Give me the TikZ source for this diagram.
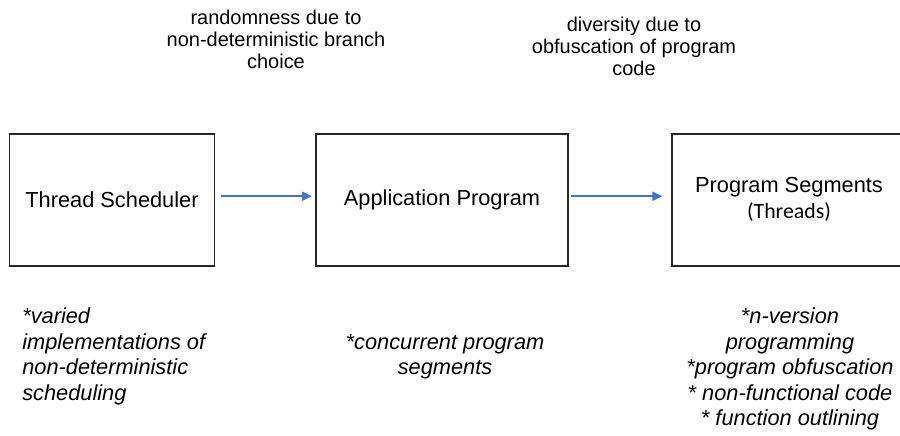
\documentclass[tikz,border=0pt]{standalone}
\usepackage{fontspec}
\setmainfont{Liberation Sans}
\newfontfamily\thrfont{Carlito}
\usetikzlibrary{arrows.meta}
\definecolor{arrowblue}{RGB}{68,114,196}

\begin{document}
\begin{tikzpicture}[box/.style={draw=black!85, line width=1.3pt, minimum height=3.29cm,
    inner sep=0pt, font=\fontsize{15.5}{18.5}\selectfont},
  flow/.style={color=arrowblue, line width=1pt, -{Triangle[length=7pt,width=6.5pt]}},
  note/.style={font=\fontsize{14.2}{15.6}\selectfont, align=center, inner sep=0pt},
  item/.style={font=\fontsize{15.5}{18.1}\selectfont\itshape, inner sep=0pt}]

% Page frame (right box runs off the edge)
\clip (0,0) rectangle (22.5,10.875);

% The three boxes:
\node[box, minimum width=5.125cm] (sched) at (2.8,5.88) {Thread Scheduler};
\node[box, minimum width=6.3cm] (app) at (11.05,5.88) {Application Program};
\node[box, minimum width=5.85cm, align=center] (seg) at (19.725,5.88)
  {Program Segments\\{\thrfont (Threads)}};

% Arrows between boxes
\draw[flow, shorten <=0.14cm, shorten >=0.08cm] ([yshift=0.09cm]sched.east) -- ([yshift=0.09cm]app.west);
\draw[flow, shorten <=0.04cm, shorten >=0.22cm] ([yshift=0.09cm]app.east) -- ([yshift=0.09cm]seg.west);

% Notes above the arrows
\node[note] (rand) at (6.9,9.9) {randomness due to\\non-deterministic branch\\choice};
\node[note] (div) at (15.85,9.7125) {diversity due to\\obfuscation of program\\code};

% Lists under the boxes
\node[item, align=left, anchor=west] (schednote) at (0.55,1.9625)
  {*varied\\implementations of\\non-deterministic\\scheduling};
\node[item, align=center] (appnote) at (11.125,1.9625) {*concurrent program\\segments};
\node[item, align=center] (segnote) at (19.75,1.65)
  {*n-version\\programming\\*program obfuscation\\* non-functional code\\* function outlining};

\end{tikzpicture}
\end{document}
